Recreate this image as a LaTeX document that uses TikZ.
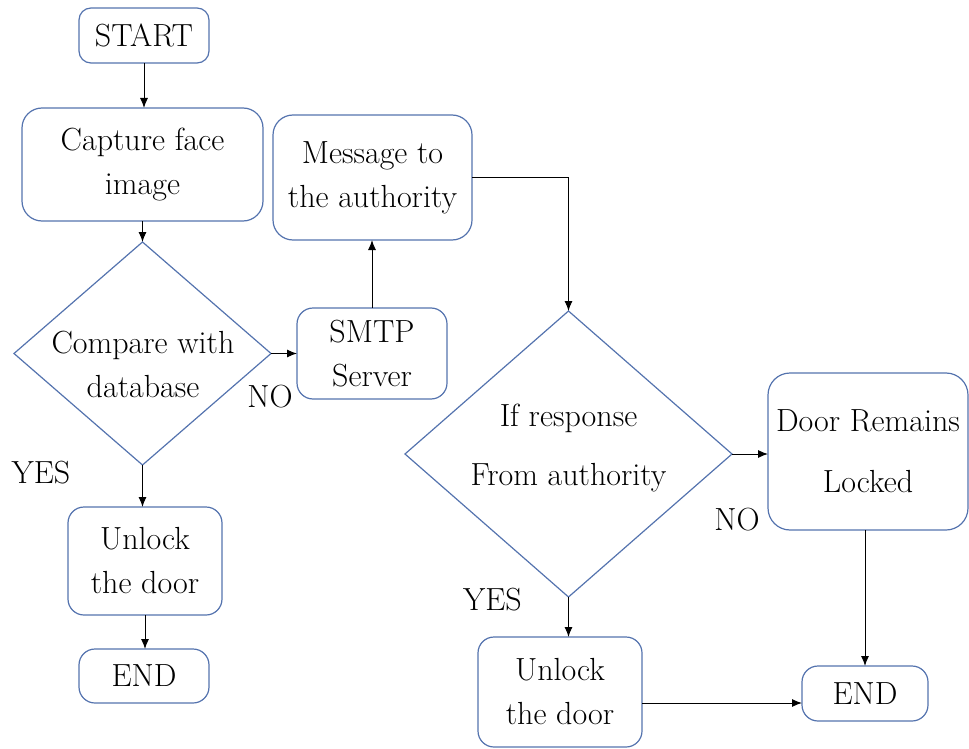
\documentclass[tikz,border=0pt]{standalone}
\usepackage{fontspec}
\newcommand\tnr{\rmfamily}
\usetikzlibrary{shapes.geometric,arrows.meta,calc}
\definecolor{boxblue}{HTML}{5473AE}
\begin{document}
\begin{tikzpicture}[x=1pt,y=-1pt,
  box/.style={draw=boxblue,line width=1.2pt,rounded corners=16pt,align=center,inner sep=0pt,outer sep=0pt,font=\tnr\fontsize{32}{38}\selectfont},
  dec/.style={draw=boxblue,line width=1.2pt,shape=diamond,inner sep=0pt,outer sep=0pt},
  txt/.style={align=center,inner sep=0pt,font=\tnr\fontsize{32}{38}\selectfont},
  arr/.style={draw=black,line width=1pt,-{Latex[length=10pt,width=8pt]}}
]
\useasboundingbox (0,0) rectangle (969,749);

\node[box,minimum width=130pt,minimum height=55pt,rounded corners=12pt] (start) at (144,35.5) {START};
\node[box,minimum width=241pt,minimum height=113pt,rounded corners=20pt] (capture) at (142.5,164.5) {Capture face\\[6pt]image};
\node[dec,minimum width=257pt,minimum height=223pt] (d1) at (142.5,353.5) {};
\node[txt] (d1t) at (143,364) {Compare with\\[6pt]database};
\node[box,minimum width=150pt,minimum height=91pt] (smtp) at (372,353.5) {SMTP\\[6pt]Server};
\node[box,minimum width=199pt,minimum height=125pt,rounded corners=20pt] (msg) at (372.5,177.5) {Message to\\[6pt]the authority};
\node[dec,minimum width=327pt,minimum height=286pt] (d2) at (568.5,454) {};
\node[txt] (d2t) at (568.5,448.5) {If response\\[21pt]From authority};
\node[box,minimum width=200pt,minimum height=157pt,rounded corners=22pt] (door) at (868,451.5) {Door Remains\\[23pt]Locked};
\node[box,minimum width=154pt,minimum height=108pt] (unlock1) at (145,561) {Unlock\\[6pt]the door};
\node[box,minimum width=130pt,minimum height=54pt] (end1) at (144,676) {END};
\node[box,minimum width=164pt,minimum height=110pt] (unlock2) at (560,692) {Unlock\\[6pt]the door};
\node[box,minimum width=126pt,minimum height=55pt] (end2) at (865,693.5) {END};

\node[txt] (no1) at (270,397) {NO};
\node[txt] (yes1) at (41,473) {YES};
\node[txt] (no2) at (737,519.5) {NO};
\node[txt] (yes2) at (492.5,600) {YES};

\draw[arr] (start.south) -- (start.south |- capture.north);
\draw[arr] (capture.south) -- (d1.north);
\draw[arr] (d1.east) -- (smtp.west);
\draw[arr] (smtp.north) -- (smtp.north |- msg.south);
\draw[arr] (msg.east) -| (d2.north);
\draw[arr] (d1.south) -- (d1.south |- unlock1.north);
\draw[arr] (unlock1.south) -- (unlock1.south |- end1.north);
\draw[arr] (d2.east) -- (d2.east -| door.west);
\draw[arr] (d2.south) -- (d2.south |- unlock2.north);
\draw[arr] (end2.north |- door.south) -- (end2.north);
\draw[arr] ($(unlock2.east)+(0,11)$) -- ($(end2.west)+(0,9.5)$);
\end{tikzpicture}
\end{document}
